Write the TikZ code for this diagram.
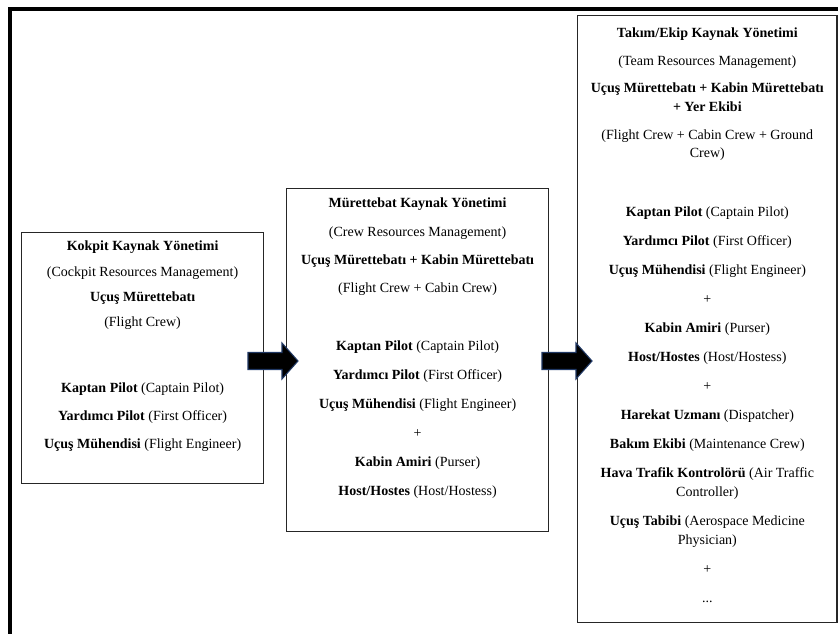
\documentclass[tikz,border=0pt]{standalone}
\usepackage{fontspec}
\setmainfont{Liberation Serif}
\usepackage{tikz}
\usetikzlibrary{positioning}
\definecolor{okkenar}{RGB}{32,56,100}
\tikzset{kutu/.style={draw=black!85, line width=0.9pt, anchor=north west, inner sep=0pt}}
\tikzset{yazi/.style={align=center, inner sep=0pt, font=\fontsize{10.5}{14}\selectfont}}
\tikzset{ok/.style={fill=black, draw=okkenar, line width=0.8pt, line join=miter}}

\begin{document}
\begin{tikzpicture}[x=0.75pt, y=-0.75pt]
            \useasboundingbox (0,0) rectangle (838,634);
            \draw[line width=3pt] (9.5,645) -- (9.5,9) -- (845,9);

            \node[kutu, minimum width=181.5pt, minimum height=188.25pt] (b1) at (21,232) {};
            \node[kutu, minimum width=196.5pt, minimum height=257.25pt] (b2) at (286,188) {};
            \node[kutu, minimum width=194.6pt, minimum height=455.25pt] (b3) at (577,15) {};

            \node[yazi, below=6.75pt of b1.north] (h1) {\textbf{Kokpit Kaynak Yönetimi}\\[5pt]
                (Cockpit Resources Management)\\[5pt] \textbf{Uçuş Mürettebatı}\\[5pt] (Flight Crew)};
            \node[yazi, below=113.25pt of b1.north] (r1) {\textbf{Kaptan Pilot} (Captain Pilot)\\[7pt]
                \textbf{Yardımcı Pilot} (First Officer)\\[7pt] \textbf{Uçuş Mühendisi} (Flight Engineer)};

            \node[yazi, below=7.5pt of b2.north] (h2) {\textbf{Mürettebat Kaynak Yönetimi}\\[7.25pt]
                (Crew Resources Management)\\[7.25pt] \textbf{Uçuş Mürettebatı + Kabin Mürettebatı}\\[7.25pt]
                (Flight Crew + Cabin Crew)};
            \node[yazi, below=114.75pt of b2.north] (r2) {\textbf{Kaptan Pilot} (Captain Pilot)\\[7.75pt]
                \textbf{Yardımcı Pilot} (First Officer)\\[7.75pt] \textbf{Uçuş Mühendisi} (Flight Engineer)\\[7.75pt]
                +\\[7.75pt] \textbf{Kabin Amiri} (Purser)\\[7.75pt] \textbf{Host/Hostes} (Host/Hostess)};

            \node[yazi, below=9.75pt of b3.north] (h3) {\textbf{Takım/Ekip Kaynak Yönetimi}\\[6.6pt]
                (Team Resources Management)\\[6.6pt] \textbf{Uçuş Mürettebatı + Kabin Mürettebatı}\\
                \textbf{+ Yer Ekibi}\\[6.6pt] (Flight Crew + Cabin Crew + Ground\\ Crew)};
            \node[yazi, below=144pt of b3.north] (r3) {\textbf{Kaptan Pilot} (Captain Pilot)\\[7.75pt]
                \textbf{Yardımcı Pilot} (First Officer)\\[7.75pt] \textbf{Uçuş Mühendisi} (Flight Engineer)\\[7.75pt]
                +\\[7.75pt] \textbf{Kabin Amiri} (Purser)\\[7.75pt] \textbf{Host/Hostes} (Host/Hostess)\\[7.75pt]
                +\\[7.75pt] \textbf{Harekat Uzmanı} (Dispatcher)\\[7.75pt] \textbf{Bakım Ekibi} (Maintenance Crew)\\[7.75pt]
                \textbf{Hava Trafik Kontrolörü} (Air Traffic\\ Controller)\\[7.75pt]
                \textbf{Uçuş Tabibi} (Aerospace Medicine\\ Physician)\\[7.75pt] +\\[7.75pt] ...};

            % block arrows
            \filldraw[ok] (248,352.5) -- ++(34,0) -- ++(0,-9.5) -- ++(16,18) -- ++(-16,18) -- ++(0,-9.5) -- ++(-34,0) -- cycle;
            \filldraw[ok] (542,352.5) -- ++(34,0) -- ++(0,-9.5) -- ++(16,18) -- ++(-16,18) -- ++(0,-9.5) -- ++(-34,0) -- cycle;
        \end{tikzpicture}
\end{document}
